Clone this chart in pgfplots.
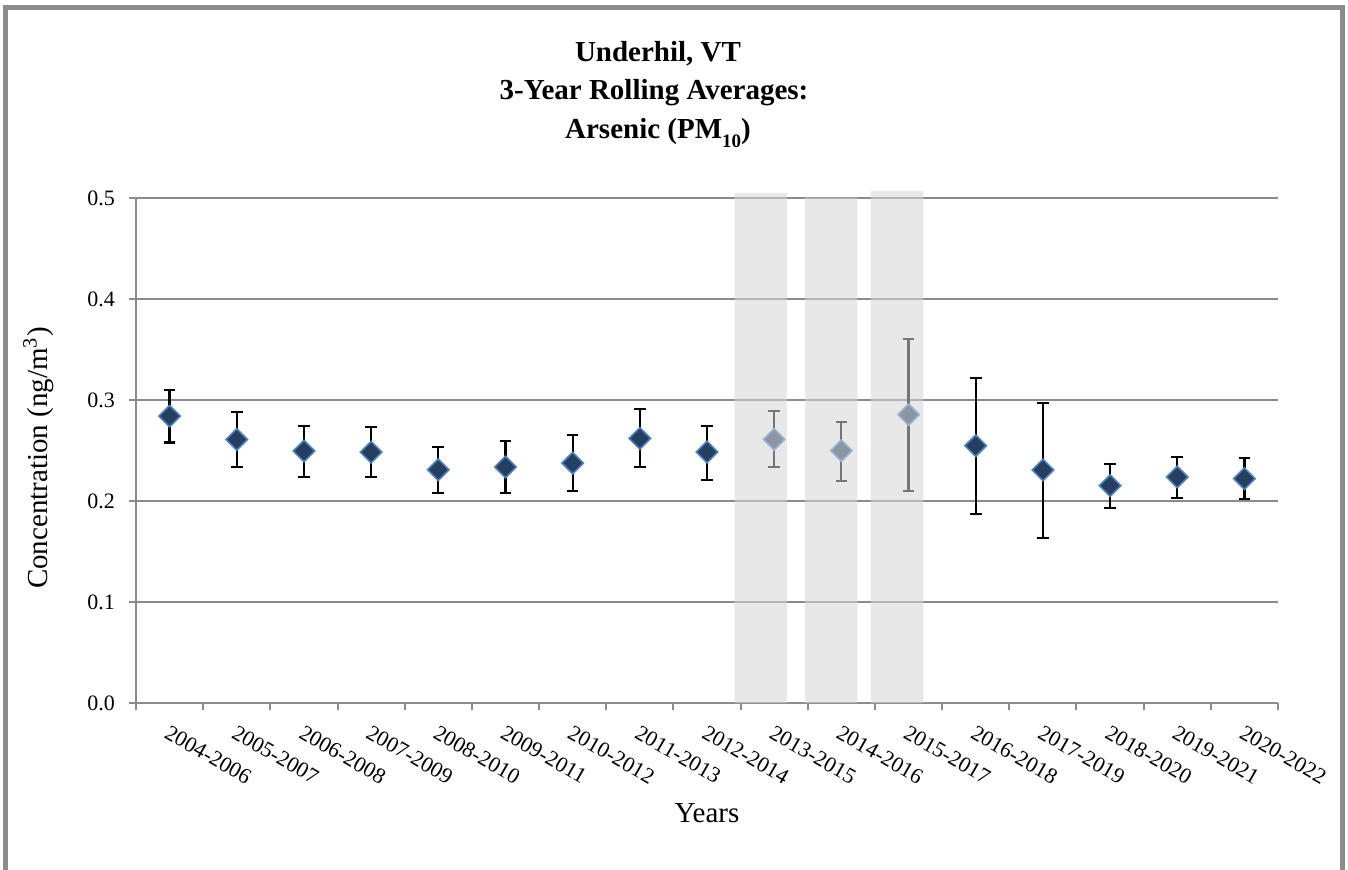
\documentclass[border=0pt]{standalone}
\usepackage{fontspec}
\setmainfont{Liberation Serif}
\usepackage{pgfplots}
\usepackage{pgfplotstable}
\pgfplotsset{compat=1.18}
\definecolor{navy}{HTML}{243F60}
\definecolor{edgeblue}{HTML}{4F81BD}
\definecolor{grayfill}{HTML}{8A96A5}
\definecolor{grayedge}{HTML}{9DB5D3}
\definecolor{axgray}{HTML}{8C8C8C}
\definecolor{bandgray}{HTML}{D6D6D6}

\pgfplotstableread{
x y ep em
1 0.2840 0.0260 0.0260
2 0.2610 0.0270 0.0270
3 0.2495 0.0245 0.0260
4 0.2485 0.0245 0.0250
5 0.2310 0.0225 0.0230
6 0.2337 0.0257 0.0257
7 0.2376 0.0274 0.0276
8 0.2620 0.0290 0.0283
9 0.2485 0.0255 0.0275
13 0.2548 0.0672 0.0680
14 0.2307 0.0660 0.0677
15 0.2152 0.0218 0.0225
16 0.2238 0.0201 0.0211
17 0.2221 0.0202 0.0201
}\datatable

\pgfplotstableread{
x y ep em
10 0.2610 0.0278 0.0276
11 0.2498 0.0287 0.0298
12 0.2855 0.0749 0.0753
}\graytable

\pgfplotstableread{
x h
9.80 0.505
10.85 0.5005
11.83 0.507
}\bandtable

\begin{document}
\begin{tikzpicture}
\draw[line width=2.5pt, axgray] (2.9pt,-30pt) -- (2.9pt,430.75pt) -- (671.25pt,430.75pt) -- (671.25pt,-30pt);
\node[anchor=base, font=\fontsize{14.5}{17}\selectfont\bfseries] at (329pt,403.5pt) {Underhil, VT};
\node[anchor=base, font=\fontsize{14.5}{17}\selectfont\bfseries] at (327pt,384.5pt) {3-Year Rolling Averages:};
\node[anchor=base, font=\fontsize{14.5}{17}\selectfont\bfseries] at (329pt,365pt) {Arsenic (PM\raisebox{-4.5pt}{\fontsize{9.5}{10}\selectfont 10})};
\begin{axis}[
  at={(68pt,83pt)}, anchor=south west,
  scale only axis, width=571pt, height=252.5pt,
  xmin=0.5, xmax=17.5, ymin=0, ymax=0.5,
  enlargelimits=false, clip=false,
  axis x line*=bottom, axis y line*=left,
  axis line style={axgray, line width=1pt},
  xtick={1,...,17},
  xticklabels={2004-2006,2005-2007,2006-2008,2007-2009,2008-2010,2009-2011,2010-2012,2011-2013,2012-2014,2013-2015,2014-2016,2015-2017,2016-2018,2017-2019,2018-2020,2019-2021,2020-2022},
  minor xtick={0.5,1.5,...,17.5},
  major x tick style={draw=none},
  minor x tick style={axgray, line width=1pt},
  ytick={0,0.1,0.2,0.3,0.4,0.5},
  ytick style={axgray, line width=1pt},
  tick align=outside, major tick length=3.5pt, minor tick length=3.5pt,
  ymajorgrids, grid style={axgray, line width=1pt},
  yticklabel style={xshift=-3.5pt, /pgf/number format/.cd, fixed, fixed zerofill, precision=1, assume math mode=true},
  tick label style={font=\fontsize{11}{13}\selectfont},
  xticklabel style={inner sep=0pt, anchor=north west, xshift=0.5pt, yshift=-7pt, rotate=-30},
  xlabel={Years}, ylabel={Concentration (ng/m\textsuperscript{3})},
  label style={font=\fontsize{14.5}{16}\selectfont},
  xlabel style={at={(axis description cs:0.5,-0.2376)}, anchor=base},
  ylabel style={at={(axis description cs:-0.0779,0.485)}, anchor=base},
]
\addplot[only marks, mark=square*, mark size=3.8pt,
  mark options={rotate=45, fill=navy, draw=edgeblue, line width=0.8pt},
  error bars/.cd, y dir=both, y explicit,
  error bar style={black, line width=1.1pt},
  error mark options={rotate=90, mark size=2.9pt, line width=1.1pt, black}]
  table[x=x, y=y, y error plus=ep, y error minus=em] {\datatable};
\addplot[only marks, mark=square*, mark size=3.8pt,
  mark options={rotate=45, fill=grayfill, draw=grayedge, line width=0.8pt},
  error bars/.cd, y dir=both, y explicit,
  error bar style={black, line width=1.1pt},
  error mark options={rotate=90, mark size=2.9pt, line width=1.1pt, black}]
  table[x=x, y=y, y error plus=ep, y error minus=em] {\graytable};
\addplot[ybar, bar width=0.78, bar shift=0pt, draw=none, fill=bandgray, fill opacity=0.55]
  table[x=x, y=h] {\bandtable};
\end{axis}
\pgfresetboundingbox
\useasboundingbox (0,0) rectangle (674pt,434.5pt);
\end{tikzpicture}
\end{document}
